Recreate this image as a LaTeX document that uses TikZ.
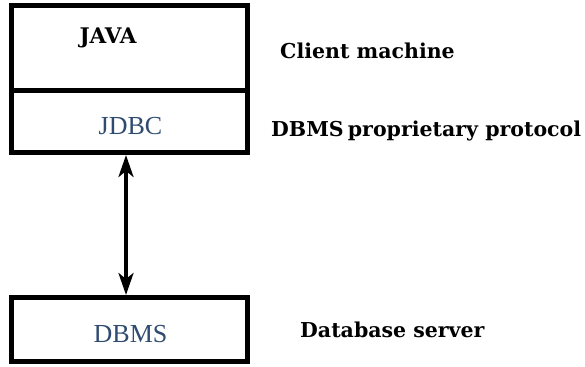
\documentclass[tikz,border=0pt]{standalone}
\usepackage{fontspec}
\setmainfont{Liberation Serif}
\newfontfamily\labelfont{DejaVu Serif}
\usepackage{xcolor}
\usetikzlibrary{arrows.meta,positioning}
\definecolor{jdbcblue}{HTML}{2F4B70}

\begin{document}
\begin{tikzpicture}[x=1pt, y=-1pt,
    layer/.style={draw, rectangle, line width=5pt, minimum width=236pt, inner sep=0pt},
    inner/.style={text=jdbcblue, font=\fontsize{26}{30}\selectfont},
    caption/.style={anchor=west, inner sep=0pt, font=\labelfont\bfseries\fontsize{20.5}{24}\selectfont}]
    \useasboundingbox (0,0) rectangle (585,366);
    \node[layer, minimum height=84.5pt] (java) at (129, 48) {};
    \node[layer, minimum height=62pt] (jdbc) at (129, 121.25) {};
    \node[layer, minimum height=63.5pt] (dbms) at (129, 329.25) {};
    \node[font=\labelfont\bfseries\fontsize{21.5}{24}\selectfont] (javatext) at (108, 38) {JAVA};
    \node[inner] (jdbctext) at (130.5, 126) {JDBC};
    \node[inner] (dbmstext) at (130.5, 334) {DBMS};
    \node[caption] (client) at (280, 51) {Client machine};
    \node[caption] (protocol) at (271, 131) {DBMS\hspace{-3pt} proprietary protocol};
    \node[caption] (server) at (300, 330) {Database server};
    \coordinate (linktop) at (126, 155);
    \coordinate (linkbot) at (126, 295);
    \draw[{Stealth[length=22pt, width=15pt, inset=6pt]}-{Stealth[length=22pt, width=15pt, inset=6pt]}, line width=3.5pt]
        (linktop) -- (linkbot);
\end{tikzpicture}
\end{document}
